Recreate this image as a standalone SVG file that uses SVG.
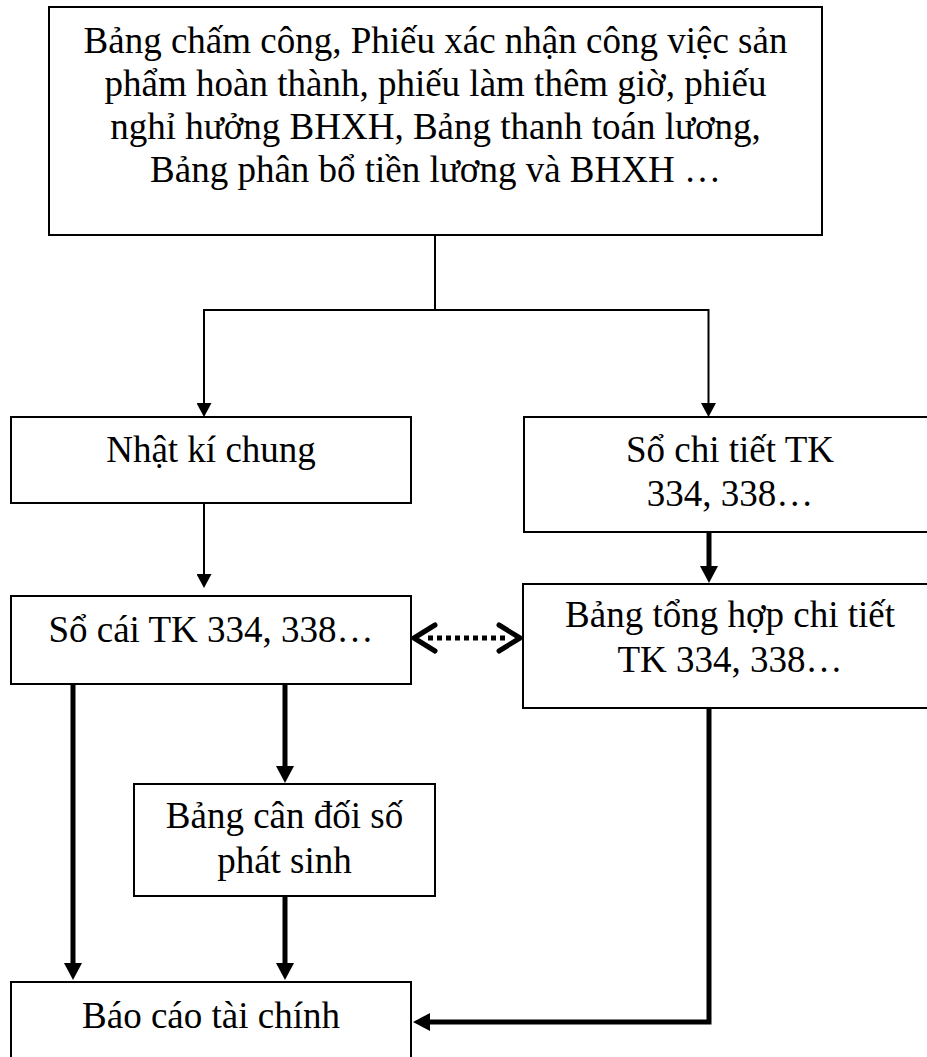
<svg xmlns="http://www.w3.org/2000/svg" width="927" height="1057" viewBox="0 0 927 1057">
  <style>
    .box { fill: #ffffff; stroke: #000000; stroke-width: 2; }
    .lbl { font-family: "Liberation Serif", "Times New Roman", serif; font-size: 37px; fill: #000000; text-anchor: middle; }
    .thin { fill: none; stroke: #000000; stroke-width: 2; }
    .thick { fill: none; stroke: #000000; stroke-width: 5; }
    .dots { fill: none; stroke: #000000; stroke-width: 5; stroke-dasharray: 5 4; }
    .chev { fill: none; stroke: #000000; stroke-width: 5; stroke-linecap: round; stroke-linejoin: round; }
  </style>
  <defs>
    <marker id="headThin" markerUnits="userSpaceOnUse" markerWidth="14" markerHeight="15" refX="0" refY="7.5" orient="auto">
      <path d="M0,0 L14,7.5 L0,15 Z" fill="#000000"/>
    </marker>
    <marker id="headThick" markerUnits="userSpaceOnUse" markerWidth="17" markerHeight="18" refX="0" refY="9" orient="auto">
      <path d="M0,0 L17,9 L0,18 Z" fill="#000000"/>
    </marker>
  </defs>

  <g id="connectors">
    <line class="thin" x1="435" y1="235" x2="435" y2="310"/>
    <line class="thin" x1="204" y1="310" x2="709" y2="310"/>
    <line class="thin" x1="204" y1="309" x2="204" y2="403" marker-end="url(#headThin)"/>
    <line class="thin" x1="708.5" y1="309" x2="708.5" y2="403" marker-end="url(#headThin)"/>
    <line class="thin" x1="204" y1="503" x2="204" y2="574" marker-end="url(#headThin)"/>
    <line class="thick" x1="709" y1="532" x2="709" y2="566" marker-end="url(#headThick)"/>
    <line class="thick" x1="73" y1="684" x2="73" y2="963" marker-end="url(#headThick)"/>
    <line class="thick" x1="285" y1="684" x2="285" y2="766" marker-end="url(#headThick)"/>
    <line class="thick" x1="285" y1="896" x2="285" y2="963" marker-end="url(#headThick)"/>
    <path class="thick" d="M709,708 V1022 H430" marker-end="url(#headThick)"/>
    <line class="dots" x1="428" y1="638" x2="506" y2="638"/>
    <polyline class="chev" points="435,625 414,638 435,651"/>
    <polyline class="chev" points="499,625 520,638 499,651"/>
  </g>

  <g id="node-chungtu">
    <rect class="box" x="49" y="7" width="773" height="228"/>
    <text class="lbl" x="435.5" y="52.5">Bảng chấm công, Phiếu xác nhận công việc sản</text>
    <text class="lbl" x="435.5" y="95.5">phẩm hoàn thành, phiếu làm thêm giờ, phiếu</text>
    <text class="lbl" x="435.5" y="138.5">nghỉ hưởng BHXH, Bảng thanh toán lương,</text>
    <text class="lbl" x="435.5" y="182">Bảng phân bổ tiền lương và BHXH …</text>
  </g>

  <g id="node-nhatki">
    <rect class="box" x="11" y="417" width="400" height="86"/>
    <text class="lbl" x="211" y="462">Nhật kí chung</text>
  </g>

  <g id="node-sochitiet">
    <rect class="box" x="524" y="417" width="413" height="115"/>
    <text class="lbl" x="730" y="462">Sổ chi tiết TK</text>
    <text class="lbl" x="730" y="506">334, 338…</text>
  </g>

  <g id="node-socai">
    <rect class="box" x="11" y="596" width="400" height="88"/>
    <text class="lbl" x="211" y="642">Sổ cái TK 334, 338…</text>
  </g>

  <g id="node-tonghop">
    <rect class="box" x="523" y="584" width="414" height="124"/>
    <text class="lbl" x="730" y="627">Bảng tổng hợp chi tiết</text>
    <text class="lbl" x="730" y="672">TK 334, 338…</text>
  </g>

  <g id="node-candoi">
    <rect class="box" x="134" y="784" width="301" height="112"/>
    <text class="lbl" x="284.5" y="828">Bảng cân đối số</text>
    <text class="lbl" x="284.5" y="873">phát sinh</text>
  </g>

  <g id="node-baocao">
    <rect class="box" x="11" y="982" width="400" height="90"/>
    <text class="lbl" x="211" y="1028">Báo cáo tài chính</text>
  </g>
</svg>
